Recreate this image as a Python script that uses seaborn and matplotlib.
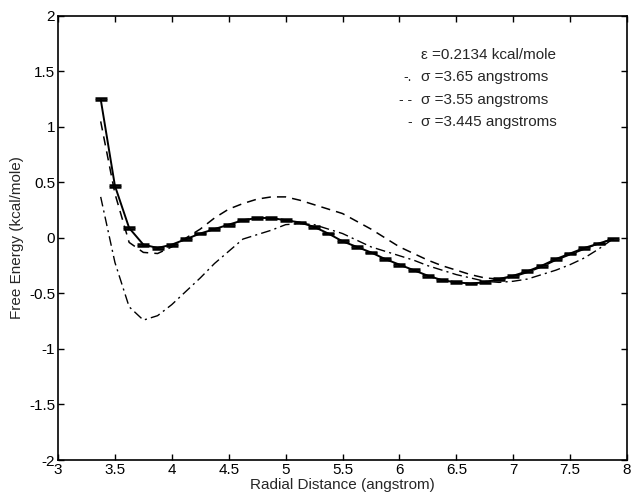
import numpy as np
import pandas as pd
import matplotlib
matplotlib.use("Agg")
import matplotlib.pyplot as plt
import seaborn as sns

# Radial distance grid (angstrom)
r = [3.375, 3.5, 3.625, 3.75, 3.875, 4.0, 4.125, 4.25, 4.375, 4.5, 4.625, 4.75,
     4.875, 5.0, 5.125, 5.25, 5.375, 5.5, 5.625, 5.75, 5.875, 6.0, 6.125, 6.25,
     6.375, 6.5, 6.625, 6.75, 6.875, 7.0, 7.125, 7.25, 7.375, 7.5, 7.625, 7.75, 7.875]

# sigma = 3.445 (solid, with error bars)
g_3445 = [1.25, 0.47, 0.09, -0.06, -0.09, -0.06, -0.01, 0.04, 0.08, 0.12, 0.16, 0.18,
          0.18, 0.16, 0.14, 0.10, 0.04, -0.03, -0.08, -0.13, -0.19, -0.24, -0.29, -0.34,
          -0.38, -0.40, -0.41, -0.40, -0.37, -0.34, -0.30, -0.25, -0.19, -0.14, -0.09, -0.05, -0.01]
err_3445 = [0.008] * len(r)

# sigma = 3.55 (dashed)
g_355 = [1.05, 0.40, -0.04, -0.13, -0.14, -0.08, 0.00, 0.08, 0.18, 0.26, 0.31, 0.35,
         0.37, 0.37, 0.34, 0.30, 0.26, 0.22, 0.15, 0.08, 0.00, -0.08, -0.14, -0.20,
         -0.25, -0.29, -0.33, -0.36, -0.37, -0.35, -0.31, -0.26, -0.20, -0.15, -0.10, -0.05, -0.01]

# sigma = 3.65 (dash-dot)
g_365 = [0.37, -0.22, -0.62, -0.74, -0.70, -0.60, -0.48, -0.36, -0.23, -0.12, -0.01, 0.03,
         0.07, 0.12, 0.13, 0.12, 0.08, 0.04, -0.02, -0.08, -0.12, -0.16, -0.20, -0.25,
         -0.29, -0.33, -0.36, -0.39, -0.40, -0.39, -0.37, -0.33, -0.29, -0.24, -0.18, -0.10, -0.01]

xticks = [3, 3.5, 4, 4.5, 5, 5.5, 6, 6.5, 7, 7.5, 8]
yticks = [-2, -1.5, -1, -0.5, 0, 0.5, 1, 1.5, 2]
xlabel = "Radial Distance (angstrom)"
ylabel = "Free Energy (kcal/mole)"
legend_lines = [("", "\u03b5 =0.2134 kcal/mole"),
                ("-.", "\u03c3 =3.65 angstroms"),
                ("- -", "\u03c3 =3.55 angstroms"),
                ("-", "\u03c3 =3.445 angstroms")]

sns.set_style("ticks")
plt.rcParams['font.family'] = ['Liberation Sans', 'DejaVu Sans']
plt.rcParams['xtick.direction'] = 'in'
plt.rcParams['ytick.direction'] = 'in'

fig = plt.figure(figsize=(6.34, 4.98), dpi=100)
ax = fig.add_axes([0.0915, 0.0763, 0.8975, 0.8917])

df = pd.DataFrame({"r": r, "s3445": g_3445, "s355": g_355, "s365": g_365})

sns.lineplot(data=df, x="r", y="s365", ax=ax, color="black", lw=1.0,
             linestyle=(0, (7, 3, 1.5, 3)))
sns.lineplot(data=df, x="r", y="s355", ax=ax, color="black", lw=1.1,
             linestyle=(0, (6, 4)))
sns.lineplot(data=df, x="r", y="s3445", ax=ax, color="black", lw=1.4)
ax.errorbar(r, g_3445, yerr=err_3445, fmt="none", ecolor="black",
            elinewidth=1.5, capsize=4, capthick=1.8)

ax.set_xlim(3, 8)
ax.set_ylim(-2, 2)
ax.set_xticks(xticks)
ax.set_xticklabels([f"{t:g}" for t in xticks])
ax.set_yticks(yticks)
ax.set_yticklabels([f"{t:g}" for t in yticks])
ax.tick_params(axis="both", which="both", direction="in", top=True, right=True,
               length=4, width=1, labelsize=11, pad=2, colors="black")
for s in ax.spines.values():
    s.set_linewidth(1.2)
    s.set_color("black")
ax.set_xlabel(xlabel, fontsize=11, labelpad=1)
ax.set_ylabel(ylabel, fontsize=11, labelpad=4)

ys = [0.912, 0.862, 0.811, 0.761]
for (sty, txt), y in zip(legend_lines, ys):
    if sty:
        ax.text(0.622, y, sty, transform=ax.transAxes, fontsize=10,
                ha="right", va="center")
    ax.text(0.638, y, txt, transform=ax.transAxes, fontsize=11,
            ha="left", va="center")

fig.savefig("out.png", dpi=100)
